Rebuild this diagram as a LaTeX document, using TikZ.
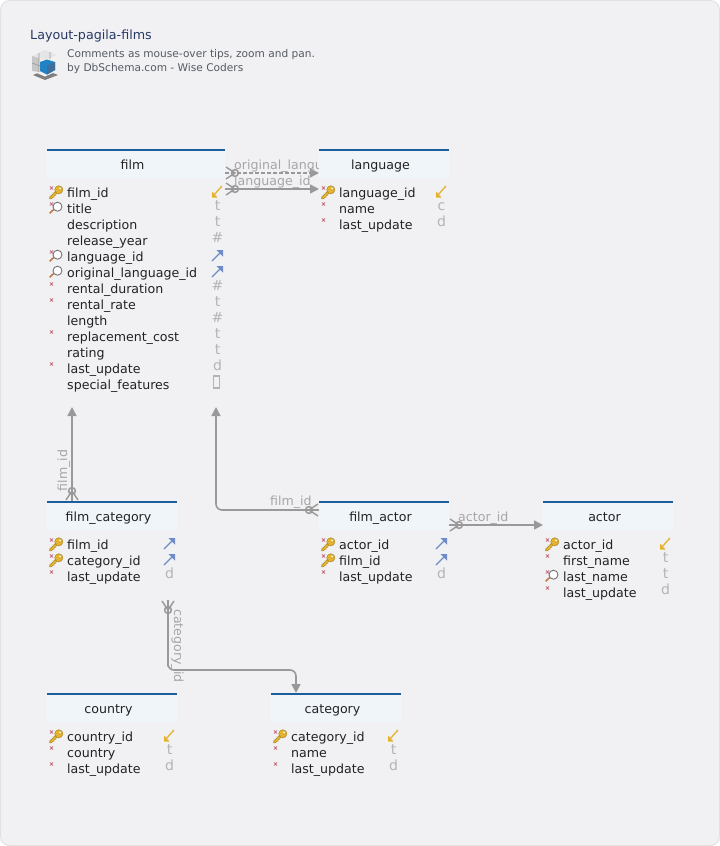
\documentclass[tikz,border=0pt]{standalone}
\usepackage{fontspec}
\setmainfont{DejaVu Sans}
\usetikzlibrary{arrows.meta}
\definecolor{bgc}{HTML}{F1F1F4}
\definecolor{edgec}{HTML}{E2E2E4}
\definecolor{headc}{HTML}{F0F5FA}
\definecolor{barc}{HTML}{1A5F9C}
\definecolor{conc}{HTML}{999999}
\definecolor{lblc}{HTML}{A6A6A6}
\definecolor{typec}{HTML}{B4B4B4}
\definecolor{txtc}{HTML}{222222}
\definecolor{titlec}{HTML}{263A63}
\definecolor{subc}{HTML}{555A63}
\definecolor{goldc}{HTML}{E3B22E}
\definecolor{bluec}{HTML}{6F8CC8}
\definecolor{redc}{HTML}{B5495A}
\tikzset{
  x=1pt,y=-1pt,
  fnt/.style={font=\fontsize{12.6}{14}\selectfont},
  colname/.style={fnt,text=txtc,anchor=base west,inner sep=0pt},
  coltype/.style={font=\fontsize{14}{15}\selectfont,text=typec,anchor=base,inner sep=0pt},
  tabletitle/.style={fnt,text=txtc,anchor=base,inner sep=0pt},
  tablehead/.style={fill=headc,draw=none,anchor=north west,minimum height=29pt,inner sep=0pt,outer sep=0pt},
  conn/.style={draw=conc,line width=1.6pt,-{Triangle[length=9pt,width=9pt]},rounded corners=6pt},
  conndash/.style={conn,dash pattern=on 4pt off 2pt},
  connlabel/.style={fnt,text=lblc,inner sep=0pt,anchor=base west},
  dbcrow/.pic={\draw[conc,line width=1.5pt] (1,-6)--(10,0)--(1,6) (10,0) circle[radius=3.4];},
  dbkey/.pic={
    \draw[draw=goldc!70!black,line width=3pt,line cap=round] (-7.5,6)--(0,-1.5);
    \draw[draw=goldc,line width=1.9pt,line cap=round] (-7.5,6)--(0,-1.5);
    \draw[draw=goldc,line width=1.2pt] (-5.5,4)--(-3.8,5.5) (-3.6,2.1)--(-2.2,3.6);
    \fill[goldc,draw=goldc!70!black,line width=.4pt] (.8,-2.2) circle[radius=4.1];
    \fill[bgc] (2,-3.6) circle[radius=1];},
  dblens/.pic={
    \draw[draw=redc!60!goldc,line width=1.5pt,line cap=round] (-8,5)--(-3.5,.6);
    \draw[draw=black!55,fill=white,line width=.9pt] (-.5,-1.3) circle[radius=4.5];},
  dbx/.pic={\draw[redc,line width=.6pt] (-1.6,-1.6)--(1.6,1.6) (-1.6,1.6)--(1.6,-1.6);},
  dbpk/.pic={\draw[goldc,line width=1.3pt] (5,-6)--(-4,4);
    \fill[goldc] (-5,5.5)--(-5,-.5)--(.5,5.5)--cycle;},
  dbfk/.pic={\draw[bluec,line width=1.3pt] (-5,5)--(5,-5);
    \fill[bluec] (6,-6)--(6,.5)--(-.5,-6)--cycle;},
}
% #1 table id, #2 x of table left, #3 width, #4 y of top, #5 title
\newcommand{\dbtable}[5]{%
  \node[tablehead,minimum width=#3pt] (#1) at (#2,#4) {};
  \draw[barc,line width=2pt] (#1.north west)++(0,1)--++(#3,0);
  \node[tabletitle] (#1-title) at (#2+#3/2-3.5,#4+20) {#5};
}
% #1 table x, #2 row y, #3 width, #4 id, #5 icons, #6 name, #7 type
\newcommand{\dbrow}[7]{%
  \path (#1,#2) #5;
  \node[colname] (#4-n) at (#1+20,#2+5) {#6};
  \node[coltype] (#4-t) at (#1+#3-7.5,#2+2) {#7};
}
% #1 table x, #2 row y, #3 width, #4 id, #5 icons, #6 name, #7 pic for the type
\newcommand{\dbrowp}[7]{%
  \path (#1,#2) #5;
  \node[colname] (#4-n) at (#1+20,#2+5) {#6};
  \path (#1+#3-8,#2) pic {#7};
}
\newcommand{\Ik}{ ++(0,0) pic[xshift=11pt] {dbkey} pic[shift={(4.5pt,4pt)}] {dbx}}
\newcommand{\Il}{ ++(0,0) pic[xshift=11pt] {dblens} pic[shift={(4.5pt,4pt)}] {dbx}}
\newcommand{\Ilo}{ ++(0,0) pic[xshift=11pt] {dblens}}
\newcommand{\Ix}{ ++(0,0) pic[shift={(4.5pt,4pt)}] {dbx}}
\begin{document}
\begin{tikzpicture}
\useasboundingbox (0,0) rectangle (720,846);
\path[fill=bgc,draw=edgec,line width=1pt,rounded corners=9pt] (.5,.5) rectangle (719.5,845.5);
\node[font=\fontsize{12.7}{14}\selectfont,text=titlec,anchor=base west,inner sep=0pt] (doc-title) at (30,39) {Layout-pagila-films};
\node[font=\fontsize{10.6}{13}\selectfont,text=subc,anchor=base west,inner sep=0pt] (doc-sub1) at (67,57) {Comments as mouse-over tips, zoom and pan.};
\node[font=\fontsize{10.6}{13}\selectfont,text=subc,anchor=base west,inner sep=0pt] (doc-sub2) at (67,71) {by DbSchema.com - Wise Coders};
% logo
\fill[black!50] (33,75)--(45,70)--(58,75)--(45,80)--cycle;
\fill[white!95!black] (45,50)--(57,55)--(57,71)--(45,76.5)--(32,71)--(32,56)--cycle;
\fill[black!10] (45,50)--(57,55)--(45,60)--(32,56)--cycle;
\fill[black!22] (32,56)--(39,58)--(39,72)--(32,71)--cycle;
\fill[cyan!70!blue!90!black] (40,62)--(47,59.5)--(55,62)--(55,70)--(47,74.5)--(40,71)--cycle;
\fill[cyan!60!blue!70!black] (47,66)--(55,62)--(55,70)--(47,74.5)--cycle;
\draw[black!40,line width=.6pt] (39,53)--(39,72) (50,52)--(50,59) (32,63)--(40,66);
% connection anchors on the tables
\coordinate (film-bl) at (72,407);
\coordinate (film-br) at (216,407);
\coordinate (film-e1) at (225,173);
\coordinate (film-e2) at (225,189);
\coordinate (lang-w1) at (319,173);
\coordinate (lang-w2) at (319,189);
\coordinate (fc-n) at (72,501);
\coordinate (fc-s) at (168,600);
\coordinate (fa-w) at (319,510);
\coordinate (fa-e) at (449,525);
\coordinate (actor-w) at (543,525);
\coordinate (cat-n) at (296,693);
% connectors
\draw[conndash] (film-e1)--(lang-w1);
\draw[conn] (film-e2)--(lang-w2);
\draw[conn] (fc-n)--(film-bl);
\draw[conn] (fa-w)-|(film-br);
\draw[conn] (fa-e)--(actor-w);
\draw[conn] (fc-s)|-(168,670)-|(cat-n);
\path (film-e1) pic {dbcrow};
\path (film-e2) pic {dbcrow};
\path (fc-n) pic[rotate=90] {dbcrow};
\path (fa-w) pic[rotate=180] {dbcrow};
\path (fa-e) pic {dbcrow};
\path (fc-s) pic[rotate=-90] {dbcrow};
% connector labels
\node[connlabel] (l1) at (234,169) {original\_langu};
\node[connlabel] (l2) at (234,185.5) {language\_id};
\node[connlabel] (l3) at (270,505) {film\_id};
\node[connlabel] (l4) at (458,521) {actor\_id};
\node[connlabel,rotate=90] (l5) at (67,491.5) {film\_id};
\node[connlabel,rotate=-90] (l6) at (174,609) {category\_id};
% film
\dbtable{film}{47}{178}{149}{film}
\dbrowp{47}{192}{178}{f1}{\Ik}{film\_id}{dbpk}
\dbrow{47}{208}{178}{f2}{\Il}{title}{t}
\dbrow{47}{224}{178}{f3}{}{description}{t}
\dbrow{47}{240}{178}{f4}{}{release\_year}{\#}
\dbrowp{47}{256}{178}{f5}{\Il}{language\_id}{dbfk}
\dbrowp{47}{272}{178}{f6}{\Ilo}{original\_language\_id}{dbfk}
\dbrow{47}{288}{178}{f7}{\Ix}{rental\_duration}{\#}
\dbrow{47}{304}{178}{f8}{\Ix}{rental\_rate}{t}
\dbrow{47}{320}{178}{f9}{}{length}{\#}
\dbrow{47}{336}{178}{f10}{\Ix}{replacement\_cost}{t}
\dbrow{47}{352}{178}{f11}{}{rating}{t}
\dbrow{47}{368}{178}{f12}{\Ix}{last\_update}{d}
\node[colname] (f13-n) at (67,389) {special\_features};
\node[draw=typec,line width=1.2pt,minimum width=6pt,minimum height=12pt,inner sep=0pt] (f13-box) at (216.5,382) {};
% language
\dbtable{language}{319}{130}{149}{language}
\dbrowp{319}{192}{130}{l1r}{\Ik}{language\_id}{dbpk}
\dbrow{319}{208}{130}{l2r}{\Ix}{name}{c}
\dbrow{319}{224}{130}{l3r}{\Ix}{last\_update}{d}
% film_category
\dbtable{film_category}{47}{130}{501}{film\_category}
\dbrowp{47}{544}{130}{c1}{\Ik}{film\_id}{dbfk}
\dbrowp{47}{560}{130}{c2}{\Ik}{category\_id}{dbfk}
\dbrow{47}{576}{130}{c3}{\Ix}{last\_update}{d}
% film_actor
\dbtable{film_actor}{319}{130}{501}{film\_actor}
\dbrowp{319}{544}{130}{a1}{\Ik}{actor\_id}{dbfk}
\dbrowp{319}{560}{130}{a2}{\Ik}{film\_id}{dbfk}
\dbrow{319}{576}{130}{a3}{\Ix}{last\_update}{d}
% actor
\dbtable{actor}{543}{130}{501}{actor}
\dbrowp{543}{544}{130}{b1}{\Ik}{actor\_id}{dbpk}
\dbrow{543}{560}{130}{b2}{\Ix}{first\_name}{t}
\dbrow{543}{576}{130}{b3}{\Il}{last\_name}{t}
\dbrow{543}{592}{130}{b4}{\Ix}{last\_update}{d}
% country
\dbtable{country}{47}{130}{693}{country}
\dbrowp{47}{736}{130}{d1}{\Ik}{country\_id}{dbpk}
\dbrow{47}{752}{130}{d2}{\Ix}{country}{t}
\dbrow{47}{768}{130}{d3}{\Ix}{last\_update}{d}
% category
\dbtable{category}{271}{130}{693}{category}
\dbrowp{271}{736}{130}{e1}{\Ik}{category\_id}{dbpk}
\dbrow{271}{752}{130}{e2}{\Ix}{name}{t}
\dbrow{271}{768}{130}{e3}{\Ix}{last\_update}{d}
\end{tikzpicture}
\end{document}
